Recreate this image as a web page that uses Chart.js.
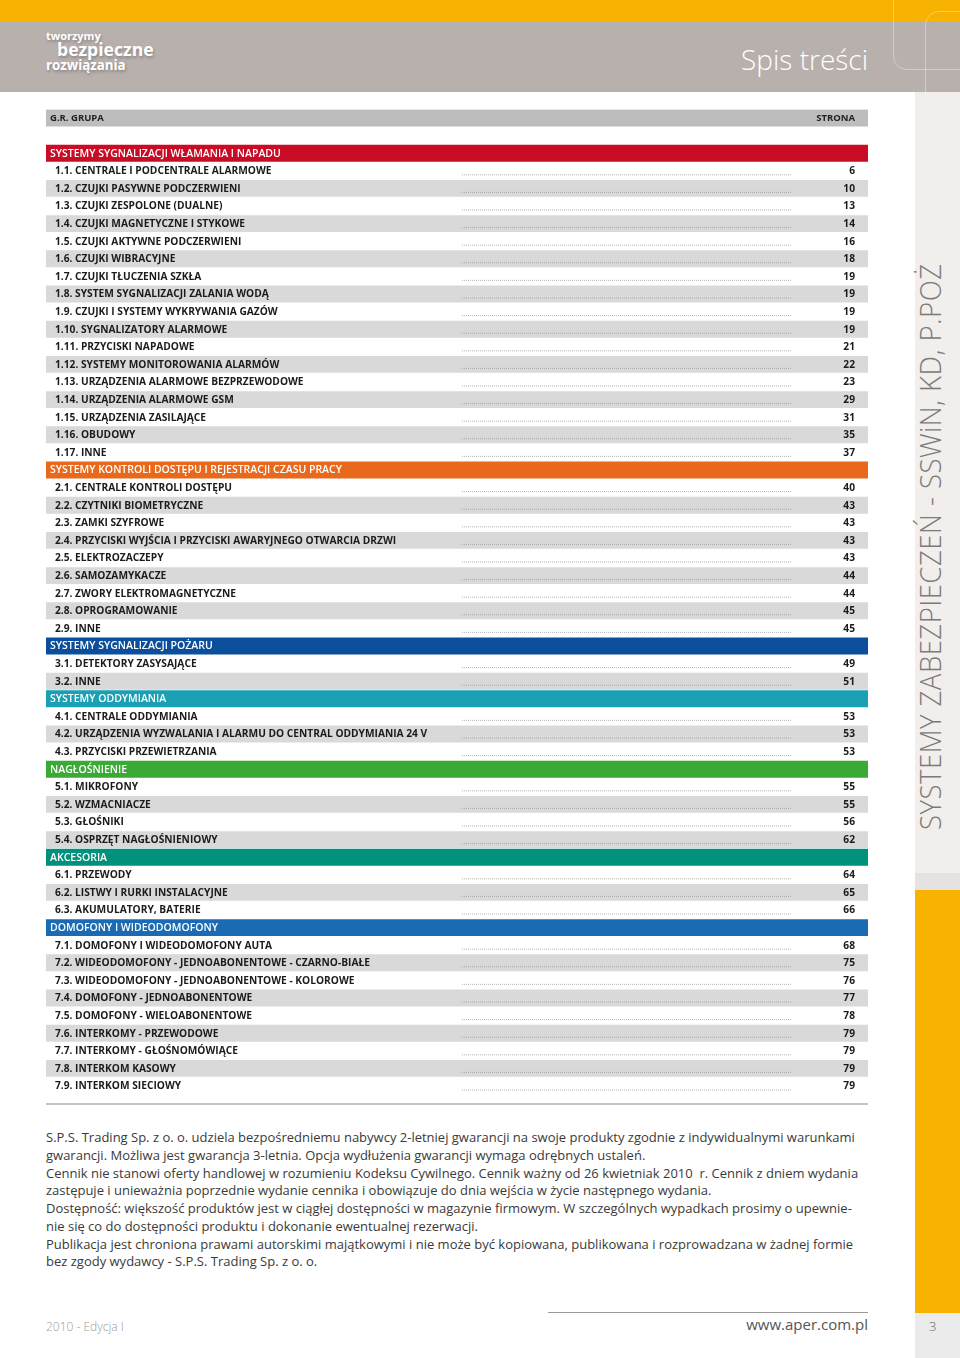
<!DOCTYPE html>
<html lang="pl">
<head>
<meta charset="utf-8">
<title>Spis treści</title>
<script src="https://cdn.jsdelivr.net/npm/chart.js@4.4.1/dist/chart.umd.min.js"></script>
<style>
    html, body { margin: 0; padding: 0; background: #fff; }
    #page { position: relative; width: 960px; height: 1358px; overflow: hidden; font-family: "Open Sans", "Noto Sans", sans-serif; }
    .abs { position: absolute; }
    #topbar { left: 0; top: 0; width: 960px; height: 22px; background: #f8b200; }
    #head { left: 0; top: 22px; width: 960px; height: 70px; background: #b8b0ad; }
    .deco { border: 1px solid rgba(255,255,255,0.35); border-radius: 14px; }
    .logo { color: #fff; font-weight: 700; text-shadow: 1px 2px 3px rgba(0,0,0,0.25); white-space: nowrap; }
    #title { right: 92px; top: 39px; color: #fff; font-size: 28px; font-weight: 300; line-height: 40px; }
    #side { left: 915px; top: 92px; width: 45px; height: 781px; background: #f1eeeb; }
    #side2 { left: 915px; top: 873px; width: 45px; height: 17px; background: #e5e2df; }
    #sideY { left: 915px; top: 890px; width: 45px; height: 423px; background: #f8b200; }
    #sideB { left: 915px; top: 1313px; width: 45px; height: 45px; background: #ebebeb; }
    #vert { left: 915px; top: 830px; transform-origin: 0 0; transform: rotate(-90deg) scaleX(0.95); color: #7c7a78; font-size: 29px; font-weight: 300; white-space: nowrap; line-height: 1; letter-spacing: 0.5px; }
    #chartBox { left: 0; top: 100px; width: 915px; height: 1010px; }
    #rule { left: 46px; top: 1103px; width: 822px; height: 2px; background: #c4c4c4; }
    #notes { left: 46px; top: 1129px; color: #3a3a3a; font-size: 13px; line-height: 17.75px; white-space: nowrap; }
    #frule { left: 548px; top: 1312px; width: 320px; height: 1px; background: #9a9a9a; }
    #edy { left: 46px; top: 1318px; color: #9a9a9a; font-size: 12px; font-weight: 300; }
    #www { right: 92px; top: 1314px; color: #555; font-size: 15px; }
    #pg { left: 929px; top: 1317px; color: #666; font-size: 13px; font-weight: 300; }
</style>
</head>
<body>
<div id="page">
    <div id="topbar" class="abs"></div>
    <div id="head" class="abs"></div>
    <div class="abs deco" style="left:893px; top:-14px; width:90px; height:82px;"></div>
    <div class="abs deco" style="left:925px; top:11px; width:60px; height:108px;"></div>
    <div class="abs logo" style="left:46px; top:28px; font-size:11px;">tworzymy</div>
    <div class="abs logo" style="left:57px; top:37px; font-size:17.6px;">bezpieczne</div>
    <div class="abs logo" style="left:46px; top:56px; font-size:13.3px;">rozwiązania</div>
    <div id="title" class="abs">Spis treści</div>

    <div id="side" class="abs"></div>
    <div id="side2" class="abs"></div>
    <div id="sideY" class="abs"></div>
    <div id="sideB" class="abs"></div>
    <div id="vert" class="abs">SYSTEMY ZABEZPIECZEŃ - SSWiN, KD, P.POŻ</div>

    <div id="chartBox" class="abs"><canvas id="toc" width="915" height="1010"></canvas></div>
    <div id="rule" class="abs"></div>

    <div id="notes" class="abs">
        <div>S.P.S. Trading Sp. z o. o. udziela bezpośredniemu nabywcy 2-letniej gwarancji na swoje produkty zgodnie z indywidualnymi warunkami</div>
        <div>gwarancji. Możliwa jest gwarancja 3-letnia. Opcja wydłużenia gwarancji wymaga odrębnych ustaleń.</div>
        <div>Cennik nie stanowi oferty handlowej w rozumieniu Kodeksu Cywilnego. Cennik ważny od 26 kwietniak 2010&nbsp; r. Cennik z dniem wydania</div>
        <div>zastępuje i unieważnia poprzednie wydanie cennika i obowiązuje do dnia wejścia w życie następnego wydania.</div>
        <div>Dostępność: większość produktów jest w ciągłej dostępności w magazynie firmowym. W szczególnych wypadkach prosimy o upewnie-</div>
        <div>nie się co do dostępności produktu i dokonanie ewentualnej rezerwacji.</div>
        <div>Publikacja jest chroniona prawami autorskimi majątkowymi i nie może być kopiowana, publikowana i rozprowadzana w żadnej formie</div>
        <div>bez zgody wydawcy - S.P.S. Trading Sp. z o. o.</div>
    </div>

    <div id="frule" class="abs"></div>
    <div id="edy" class="abs">2010 - Edycja I</div>
    <div id="www" class="abs">www.aper.com.pl</div>
    <div id="pg" class="abs">3</div>
</div>

<script>
// --- data ---
const headerLeft = 'G.R. GRUPA';
const headerRight = 'STRONA';

const sectionNames = [
    'SYSTEMY SYGNALIZACJI WŁAMANIA I NAPADU',
    'SYSTEMY KONTROLI DOSTĘPU I REJESTRACJI CZASU PRACY',
    'SYSTEMY SYGNALIZACJI POŻARU',
    'SYSTEMY ODDYMIANIA',
    'NAGŁOŚNIENIE',
    'AKCESORIA',
    'DOMOFONY I WIDEODOMOFONY'
];

const itemLabels = [
    ['1.1. CENTRALE I PODCENTRALE ALARMOWE', '1.2. CZUJKI PASYWNE PODCZERWIENI', '1.3. CZUJKI ZESPOLONE (DUALNE)',
     '1.4. CZUJKI MAGNETYCZNE I STYKOWE', '1.5. CZUJKI AKTYWNE PODCZERWIENI', '1.6. CZUJKI WIBRACYJNE',
     '1.7. CZUJKI TŁUCZENIA SZKŁA', '1.8. SYSTEM SYGNALIZACJI ZALANIA WODĄ', '1.9. CZUJKI I SYSTEMY WYKRYWANIA GAZÓW',
     '1.10. SYGNALIZATORY ALARMOWE', '1.11. PRZYCISKI NAPADOWE', '1.12. SYSTEMY MONITOROWANIA ALARMÓW',
     '1.13. URZĄDZENIA ALARMOWE BEZPRZEWODOWE', '1.14. URZĄDZENIA ALARMOWE GSM', '1.15. URZĄDZENIA ZASILAJĄCE',
     '1.16. OBUDOWY', '1.17. INNE'],
    ['2.1. CENTRALE KONTROLI DOSTĘPU', '2.2. CZYTNIKI BIOMETRYCZNE', '2.3. ZAMKI SZYFROWE',
     '2.4. PRZYCISKI WYJŚCIA I PRZYCISKI AWARYJNEGO OTWARCIA DRZWI', '2.5. ELEKTROZACZEPY', '2.6. SAMOZAMYKACZE',
     '2.7. ZWORY ELEKTROMAGNETYCZNE', '2.8. OPROGRAMOWANIE', '2.9. INNE'],
    ['3.1. DETEKTORY ZASYSAJĄCE', '3.2. INNE'],
    ['4.1. CENTRALE ODDYMIANIA', '4.2. URZĄDZENIA WYZWALANIA I ALARMU DO CENTRAL ODDYMIANIA 24 V', '4.3. PRZYCISKI PRZEWIETRZANIA'],
    ['5.1. MIKROFONY', '5.2. WZMACNIACZE', '5.3. GŁOŚNIKI', '5.4. OSPRZĘT NAGŁOŚNIENIOWY'],
    ['6.1. PRZEWODY', '6.2. LISTWY I RURKI INSTALACYJNE', '6.3. AKUMULATORY, BATERIE'],
    ['7.1. DOMOFONY I WIDEODOMOFONY AUTA', '7.2. WIDEODOMOFONY - JEDNOABONENTOWE - CZARNO-BIAŁE',
     '7.3. WIDEODOMOFONY - JEDNOABONENTOWE - KOLOROWE', '7.4. DOMOFONY - JEDNOABONENTOWE',
     '7.5. DOMOFONY - WIELOABONENTOWE', '7.6. INTERKOMY - PRZEWODOWE', '7.7. INTERKOMY - GŁOŚNOMÓWIĄCE',
     '7.8. INTERKOM KASOWY', '7.9. INTERKOM SIECIOWY']
];

const pageNumbers = [
    [6, 10, 13, 14, 16, 18, 19, 19, 19, 19, 21, 22, 23, 29, 31, 35, 37],
    [40, 43, 43, 43, 43, 44, 44, 45, 45],
    [49, 51],
    [53, 53, 53],
    [55, 55, 56, 62],
    [64, 65, 66],
    [68, 75, 76, 77, 78, 79, 79, 79, 79]
];

// section band colours (style, kept apart from the data)
const sectionColors = ['#c90c26', '#e8691b', '#0b4f9c', '#1aa0b2', '#3aa935', '#00917d', '#1a6bb4'];
const HEADER_GREY = '#bdbdbd';
const ROW_GREY = '#d9d9da';

// flatten into chart rows
const rows = [];
rows.push({ kind: 'header', label: headerLeft, page: headerRight });
rows.push({ kind: 'blank', label: '', page: null });
sectionNames.forEach((name, s) => {
    rows.push({ kind: 'section', label: name, page: null, section: s });
    itemLabels[s].forEach((lbl, k) => {
        rows.push({ kind: 'item', label: lbl, page: pageNumbers[s][k], section: s, odd: k % 2 === 1 });
    });
});

function rowColor(r) {
    if (r.kind === 'header') return HEADER_GREY;
    if (r.kind === 'section') return sectionColors[r.section];
    if (r.kind === 'item') return r.odd ? ROW_GREY : '#ffffff';
    return 'rgba(0,0,0,0)';
}

// text, dot leaders and page numbers, placed on the category scale
const tocText = {
    id: 'tocText',
    afterDatasetsDraw(chart) {
        const ctx = chart.ctx;
        const yScale = chart.scales.y;
        const xScale = chart.scales.x;
        const left = xScale.getPixelForValue(0);
        const right = xScale.getPixelForValue(1);
        ctx.save();
        ctx.textBaseline = 'middle';
        rows.forEach((r, i) => {
            const y = yScale.getPixelForValue(i) + 0.5;
            if (r.kind === 'header') {
                ctx.fillStyle = '#222';
                ctx.font = 'bold 9.5px "Open Sans"';
                ctx.textAlign = 'left';
                ctx.fillText(r.label, left + 4, y);
                ctx.textAlign = 'right';
                ctx.fillText(r.page, right - 13, y);
            } else if (r.kind === 'section') {
                ctx.fillStyle = '#fff';
                ctx.font = '600 10.5px "Open Sans"';
                ctx.textAlign = 'left';
                ctx.fillText(r.label, left + 4, y);
            } else if (r.kind === 'item') {
                ctx.fillStyle = '#1b1b1b';
                ctx.font = 'bold 10.2px "Open Sans"';
                ctx.textAlign = 'left';
                ctx.fillText(r.label, left + 9, y);
                ctx.textAlign = 'right';
                ctx.fillText(String(r.page), right - 13, y);
                // dotted leader
                ctx.beginPath();
                ctx.strokeStyle = '#8a8a8a';
                ctx.lineWidth = 0.8;
                ctx.setLineDash([0.8, 1.2]);
                ctx.moveTo(left + 416, y + 3.5);
                ctx.lineTo(left + 746, y + 3.5);
                ctx.stroke();
                ctx.setLineDash([]);
            }
        });
        ctx.restore();
    }
};

new Chart(document.getElementById('toc').getContext('2d'), {
    type: 'bar',
    data: {
        labels: rows.map(r => r.label),
        datasets: [{
            data: rows.map(r => r.kind === 'blank' ? 0 : 1),
            backgroundColor: rows.map(rowColor),
            borderWidth: 0,
            barPercentage: 1,
            categoryPercentage: 0.96
        }]
    },
    options: {
        indexAxis: 'y',
        responsive: false,
        animation: false,
        events: [],
        layout: { padding: { left: 46, right: 47, top: 9.2, bottom: 15.2 } },
        plugins: { legend: { display: false }, tooltip: { enabled: false } },
        scales: {
            x: { display: false, min: 0, max: 1 },
            y: { display: false }
        }
    },
    plugins: [tocText]
});
</script>
</body>
</html>
